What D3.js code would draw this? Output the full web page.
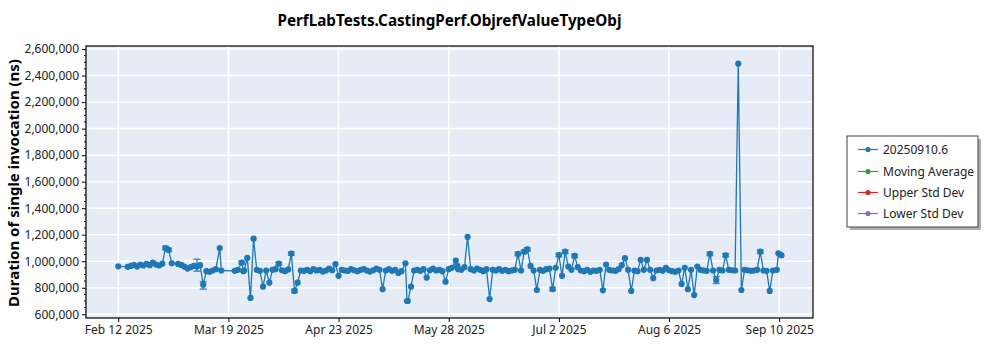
<!DOCTYPE html>
<html><head><meta charset="utf-8">
<script src="https://cdn.jsdelivr.net/npm/d3@7"></script>
<style>html,body{margin:0;padding:0;background:#fff;}svg{display:block;}</style>
</head><body>
<svg id="chart" width="1000" height="350"></svg>
<script>
const title = "PerfLabTests.CastingPerf.ObjrefValueTypeObj";
const yLabel = "Duration of single invocation (ns)";
const seriesName = "20250910.6";
const legendNames = ["20250910.6", "Moving Average", "Upper Std Dev", "Lower Std Dev"];
const legendColors = ["#1f77b4", "#2ca02c", "#d62728", "#9467bd"];
const xTickDates = ["2025-02-12","2025-03-19","2025-04-23","2025-05-28","2025-07-02","2025-08-06","2025-09-10"];
const yTickValues = [600000,800000,1000000,1200000,1400000,1600000,1800000,2000000,2200000,2400000,2600000];

// dates (duplicates on a day carry an hour) and values in thousands of ns
const dates = [
"2025-02-12","2025-02-15","2025-02-16","2025-02-17","2025-02-18","2025-02-19","2025-02-20","2025-02-21","2025-02-22","2025-02-23",
"2025-02-24","2025-02-25","2025-02-26","2025-02-27","2025-02-28","2025-03-01","2025-03-03","2025-03-04","2025-03-05","2025-03-06",
"2025-03-07","2025-03-08","2025-03-09","2025-03-10","2025-03-11","2025-03-12","2025-03-13","2025-03-14","2025-03-15","2025-03-16T06",
"2025-03-16T18","2025-03-21","2025-03-22","2025-03-23T06","2025-03-23T18","2025-03-24","2025-03-25","2025-03-26","2025-03-27","2025-03-28",
"2025-03-29","2025-03-30","2025-03-31","2025-04-01","2025-04-02","2025-04-03","2025-04-04","2025-04-05","2025-04-06","2025-04-07",
"2025-04-08","2025-04-09","2025-04-10","2025-04-11","2025-04-12","2025-04-13","2025-04-14","2025-04-15","2025-04-16","2025-04-17",
"2025-04-18","2025-04-19","2025-04-20","2025-04-21","2025-04-22","2025-04-23","2025-04-24","2025-04-25","2025-04-26","2025-04-27",
"2025-04-28","2025-04-29","2025-04-30","2025-05-01","2025-05-02","2025-05-03","2025-05-04","2025-05-05","2025-05-06","2025-05-07",
"2025-05-08","2025-05-09","2025-05-10","2025-05-11","2025-05-12","2025-05-13","2025-05-14T06","2025-05-14T18","2025-05-15","2025-05-16",
"2025-05-17","2025-05-18","2025-05-19","2025-05-20","2025-05-21","2025-05-22","2025-05-23","2025-05-24","2025-05-25","2025-05-26",
"2025-05-27","2025-05-28","2025-05-29","2025-05-30T06","2025-05-30T18","2025-05-31","2025-06-01","2025-06-02","2025-06-03","2025-06-04",
"2025-06-05","2025-06-06","2025-06-07","2025-06-08","2025-06-09","2025-06-10","2025-06-11","2025-06-12","2025-06-13","2025-06-14",
"2025-06-15","2025-06-16","2025-06-17","2025-06-18","2025-06-19","2025-06-20","2025-06-21","2025-06-22","2025-06-23","2025-06-24",
"2025-06-25","2025-06-26","2025-06-27","2025-06-28","2025-06-29","2025-06-30","2025-07-01","2025-07-02","2025-07-03","2025-07-04",
"2025-07-05","2025-07-06","2025-07-07","2025-07-08","2025-07-09","2025-07-10","2025-07-11","2025-07-12","2025-07-13","2025-07-14",
"2025-07-15","2025-07-16","2025-07-17","2025-07-18","2025-07-19","2025-07-20","2025-07-21","2025-07-22","2025-07-23","2025-07-24",
"2025-07-25","2025-07-26","2025-07-27","2025-07-28","2025-07-29","2025-07-30","2025-07-31","2025-08-01","2025-08-02","2025-08-03",
"2025-08-04","2025-08-05","2025-08-06","2025-08-07","2025-08-08","2025-08-09","2025-08-10","2025-08-11","2025-08-12","2025-08-13",
"2025-08-14","2025-08-15","2025-08-16","2025-08-17","2025-08-18","2025-08-19","2025-08-20","2025-08-21","2025-08-22","2025-08-23",
"2025-08-24","2025-08-25","2025-08-26","2025-08-27","2025-08-28","2025-08-29","2025-08-30","2025-08-31","2025-09-01","2025-09-02",
"2025-09-03","2025-09-04","2025-09-05","2025-09-06","2025-09-07","2025-09-08","2025-09-09T06","2025-09-09T18","2025-09-10T06","2025-09-10T18"
];
const valuesK = [
962,958,965,972,960,975,968,980,970,990,
975,968,982,1100,1085,985,980,972,960,945,
955,965,960,970,823,925,920,930,940,1100,
930,928,935,990,925,930,1025,723,1170,935,
928,808,930,838,935,940,982,932,925,938,
1057,776,838,930,928,935,925,940,930,935,
922,930,945,932,978,890,935,930,928,940,
932,925,935,940,930,922,932,945,935,789,
930,940,928,935,912,925,985,700,700,808,
930,935,928,940,876,932,945,930,935,925,
846,940,950,1005,965,940,935,955,1183,940,
930,945,935,925,940,715,935,930,940,928,
935,925,930,935,1055,930,1072,1090,965,930,
783,935,928,940,945,790,950,1047,890,1072,
960,935,1040,955,930,925,935,920,930,928,
935,781,975,935,930,928,940,970,1023,935,
776,930,925,1010,935,1010,935,872,930,935,
928,950,932,925,920,930,829,950,789,935,
745,960,935,930,928,1055,930,858,935,930,
1045,935,932,930,2490,783,935,932,928,930,
935,1072,930,928,776,930,935,1060,1050,1045
];
// error bars: date, low, high (thousands of ns)
const errDates = ["2025-02-27","2025-02-28","2025-03-09","2025-03-11","2025-03-23T06","2025-04-04","2025-04-08","2025-04-09","2025-06-19","2025-06-21","2025-06-22","2025-06-30","2025-07-02","2025-07-04","2025-07-07","2025-08-19","2025-08-21","2025-08-24","2025-09-04"];
const errLowK  = [1088,1073,925,790,978,970,1045,764,1043,1060,1078,778,1035,1060,1028,1043,833,1033,1060];
const errHighK = [1112,1097,1015,846,1002,994,1069,788,1067,1084,1102,802,1059,1084,1052,1067,883,1057,1084];

const svg = d3.select("#chart");
const fontMain = "'Noto Sans', 'Open Sans', sans-serif";
const m = {left: 86, right: 813, top: 46, bottom: 318};

const parseDay = d3.timeParse("%Y-%m-%d");
const parseHr = d3.timeParse("%Y-%m-%dT%H");
const parse = s => s.length > 10 ? parseHr(s) : parseDay(s);

const data = dates.map((d, i) => ({date: parse(d), value: valuesK[i] * 1000}));
const errs = errDates.map((d, i) => ({date: parse(d), lo: errLowK[i] * 1000, hi: errHighK[i] * 1000}));

const x = d3.scaleTime()
  .domain([new Date(2025, 1, 1, 18), new Date(2025, 8, 20, 18)])
  .range([m.left, m.right]);
const y = d3.scaleLinear().domain([572000, 2623000]).range([m.bottom, m.top]);

// background
svg.append("rect").attr("x", m.left).attr("y", m.top)
  .attr("width", m.right - m.left).attr("height", m.bottom - m.top).attr("fill", "#e5ecf6");

// grid
const xTicks = xTickDates.map(parseDay);
svg.append("g").selectAll("line").data(xTicks).join("line")
  .attr("x1", d => x(d)).attr("x2", d => x(d)).attr("y1", m.top).attr("y2", m.bottom)
  .attr("stroke", "#fff").attr("stroke-width", 1.5);
svg.append("g").selectAll("line").data(yTickValues).join("line")
  .attr("x1", m.left).attr("x2", m.right).attr("y1", d => y(d)).attr("y2", d => y(d))
  .attr("stroke", "#fff").attr("stroke-width", 1.5);

// clip
svg.append("clipPath").attr("id", "clip").append("rect")
  .attr("x", m.left).attr("y", m.top).attr("width", m.right - m.left).attr("height", m.bottom - m.top);
const plot = svg.append("g").attr("clip-path", "url(#clip)");

const color = "#1f77b4";
plot.append("path").datum(data)
  .attr("fill", "none").attr("stroke", color).attr("stroke-width", 1.3)
  .attr("d", d3.line().x(d => x(d.date)).y(d => y(d.value)));

// error bars
const eg = plot.append("g").attr("stroke", color).attr("stroke-opacity", 0.75).attr("stroke-width", 1.6);
errs.forEach(e => {
  const cx = x(e.date);
  eg.append("line").attr("x1", cx).attr("x2", cx).attr("y1", y(e.lo)).attr("y2", y(e.hi));
  eg.append("line").attr("x1", cx - 3.5).attr("x2", cx + 3.5).attr("y1", y(e.lo)).attr("y2", y(e.lo));
  eg.append("line").attr("x1", cx - 3.5).attr("x2", cx + 3.5).attr("y1", y(e.hi)).attr("y2", y(e.hi));
});

plot.append("g").selectAll("circle").data(data).join("circle")
  .attr("cx", d => x(d.date)).attr("cy", d => y(d.value)).attr("r", 3.1)
  .attr("fill", color);

// axes
const fmt = d3.format(",");
const yAxis = d3.axisLeft(y).tickValues(yTickValues).tickFormat(fmt).tickSize(4).tickPadding(3);
const ga = svg.append("g").attr("transform", `translate(${m.left},0)`).call(yAxis);
const minor = d3.range(600000, 2600001, 50000).filter(v => v % 200000 !== 0);
svg.append("g").selectAll("line").data(minor).join("line")
  .attr("x1", m.left - 2).attr("x2", m.left).attr("y1", d => y(d)).attr("y2", d => y(d))
  .attr("stroke", "#000");
const xAxis = d3.axisBottom(x).tickValues(xTicks).tickFormat(d3.timeFormat("%b %-d %Y")).tickSize(4).tickPadding(3);
const gx = svg.append("g").attr("transform", `translate(0,${m.bottom})`).call(xAxis);
[ga, gx].forEach(g => {
  g.select(".domain").remove();
  g.selectAll("text").attr("font-family", fontMain).attr("font-size", 12).attr("fill", "#222");
  g.selectAll("line").attr("stroke", "#000");
});

// frame
svg.append("rect").attr("x", m.left).attr("y", m.top)
  .attr("width", m.right - m.left).attr("height", m.bottom - m.top)
  .attr("fill", "none").attr("stroke", "#000").attr("stroke-width", 1.2);

// title
function fitText(sel, targetWidth, startSize) {
  sel.attr("font-size", startSize);
  const w = sel.node().getComputedTextLength();
  sel.attr("font-size", (startSize * targetWidth / w).toFixed(2));
}
const t = svg.append("text").attr("x", (m.left + m.right) / 2).attr("y", 26)
  .attr("text-anchor", "middle").attr("font-family", fontMain).attr("font-weight", "bold")
  .attr("fill", "#000").text(title);
fitText(t, 344, 15);

const yl = svg.append("text").attr("transform", `translate(19,${(m.top + m.bottom) / 2 + 1}) rotate(-90)`)
  .attr("text-anchor", "middle").attr("font-family", fontMain).attr("font-weight", "bold")
  .attr("fill", "#000").text(yLabel);
fitText(yl, 248, 16);

// legend
const lg = svg.append("g");
const lx = 847, ly = 136, lw = 131, lh = 91;
lg.append("rect").attr("x", lx + 3).attr("y", ly + 3).attr("width", lw).attr("height", lh)
  .attr("fill", "#9a9a9a").attr("opacity", 0.8);
lg.append("rect").attr("x", lx).attr("y", ly).attr("width", lw).attr("height", lh)
  .attr("fill", "#fff").attr("stroke", "#444").attr("stroke-width", 1);
const itemY = [149.5, 171.5, 192.5, 213.5];
legendNames.forEach((n, i) => {
  const gy = itemY[i];
  lg.append("line").attr("x1", 858).attr("x2", 878).attr("y1", gy).attr("y2", gy)
    .attr("stroke", legendColors[i]).attr("stroke-width", 1.2);
  lg.append("circle").attr("cx", 868).attr("cy", gy).attr("r", 2.6).attr("fill", legendColors[i]);
  lg.append("text").attr("x", 883).attr("y", gy + 4.2).attr("font-family", fontMain)
    .attr("font-size", 12).attr("fill", "#222").text(n);
});
</script>
</body></html>
